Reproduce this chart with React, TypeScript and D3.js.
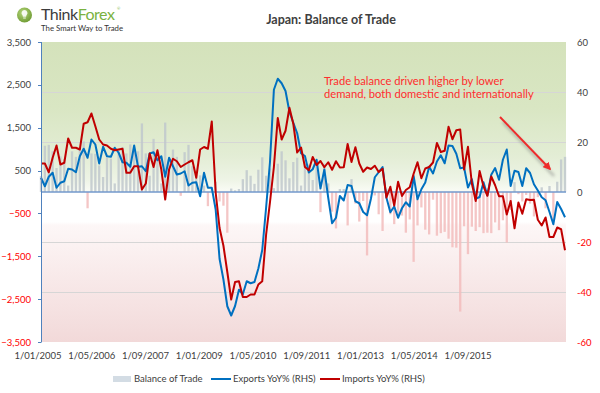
import React, { useEffect, useRef } from 'react'
import * as d3 from 'd3'

// Japan monthly trade balance (bn JPY), Jan 2005 -> Apr 2016
const balance = [
  370, 1080, 1100, 950, 560, 830, 770, 150, 950, 820, 1000, 1180,
  -380, 900, 890, 620, 350, 800, 780, 200, 990, 1050, 900, 1110,
  950, 950, 1600, 900, 380, 1240, 870, 200, 1620, 760, 990, 820,
  -90, 930, 1100, 600, 400, 390, 150, -330, 90, 240, -220, -320,
  -950, 80, 40, 70, 300, 510, 380, 190, 520, 810, 380, 550,
  90, 660, 950, 740, 320, 700, 800, 150, 670, 640, 280, 730,
  -470, 660, 200, -460, -850, 70, 70, -780, 300, -270, -690, -210,
  -1480, 30, -80, -520, -910, 60, -520, -750, -560, -550, -950, -640,
  -1630, -780, -360, -880, -990, -180, -1020, -960, -930, -1090, -1290, -1300,
  -2790, -800, -1450, -810, -910, -820, -960, -950, -960, -710, -890, -660,
  -1180, -420, 230, -50, -220, -70, -270, -570, -120, 110, -380, 140,
  -650, 240, 760, 820,
]

const exportsYoY = [
  5.7, 2.3, 6.1, 7.7, 1.7, 3.7, 4.3, 9.3, 9.0, 7.9, 14.3, 17.3,
  13.7, 21.0, 19.0, 11.4, 18.1, 14.3, 14.1, 17.7, 15.7, 11.9, 11.7, 10.1,
  18.6, 10.1, 10.3, 8.3, 15.4, 15.9, 12.7, 14.3, 6.1, 13.7, 10.3, 7.0,
  7.4, 8.3, 2.6, 3.7, 3.9, -1.7, 7.7, 1.7, 1.7, -7.0, -26.7, -35.0,
  -45.7, -49.4, -45.6, -39.1, -40.9, -35.7, -36.5, -36.0, -30.6, -23.2, -6.2, 12.1,
  40.9, 45.3, 43.5, 40.4, 32.1, 27.7, 23.5, 15.5, 14.4, 7.8, 9.1, 12.9,
  1.4, 9.0, -2.3, -12.5, -10.3, -1.6, -3.4, 2.8, 2.4, -3.7, -4.5, -8.0,
  -9.3, -2.7, 5.9, 7.9, 10.0, -2.3, -8.1, -5.8, -10.3, -6.5, -4.1, -5.8,
  6.4, -2.9, 1.1, 3.8, 10.1, 7.4, 12.2, 14.7, 11.5, 18.6, 18.4, 15.3,
  9.5, 9.8, 1.8, 5.1, -2.7, -2.0, 3.9, -1.3, 6.9, 9.6, 4.9, 12.9,
  17.0, 2.4, 8.5, 8.0, 2.4, 9.5, 7.6, 3.1, 0.6, -2.1, -3.3, -8.0,
  -12.9, -4.0, -6.8, -10.1,
]

const importsYoY = [
  11.4, 11.4, 7.9, 13.7, 18.6, 11.0, 11.7, 21.4, 17.7, 17.7, 17.0, 27.3,
  27.9, 31.4, 26.3, 21.0, 19.0, 18.6, 17.3, 16.7, 17.0, 17.3, 7.7, 7.7,
  10.3, 10.3, 1.0, 3.4, 15.4, 10.0, 16.7, 9.0, -3.0, 9.0, 13.3, 12.3,
  10.0, 11.0, 11.9, 12.7, 5.7, 17.0, 18.0, 17.3, 28.2, -0.2, -14.4, -21.5,
  -32.0, -43.0, -36.0, -35.7, -42.0, -42.0, -41.0, -41.0, -37.0, -35.7, -17.0, -4.0,
  10.0, 29.6, 21.0, 24.5, 33.7, 27.3, 15.8, 17.8, 10.0, 8.7, 14.0, 10.8,
  12.4, 9.9, 11.9, 8.9, 12.3, 9.8, 9.9, 19.2, 12.0, 17.9, 11.4, 8.1,
  9.8, 9.2, 10.5, 8.0, 9.3, -2.2, 2.1, -5.4, 4.1, -1.6, 0.8, 1.9,
  7.3, 11.9, 5.5, 9.4, 10.0, 11.8, 19.6, 16.0, 16.5, 26.1, 21.1, 24.7,
  25.0, 9.0, 18.1, 3.4, -3.6, 8.4, 2.3, -1.5, 6.2, 2.7, -1.7, -1.7,
  -9.0, -3.6, -14.5, -4.2, -8.7, -2.9, -3.2, -3.1, -11.1, -13.4, -10.2, -18.0,
  -18.0, -14.2, -14.9, -23.3,
]

const xLabels = [
  '1/01/2005', '1/05/2006', '1/09/2007', '1/01/2009', '1/05/2010',
  '1/09/2011', '1/01/2013', '1/05/2014', '1/09/2015',
]
const leftTicks = [3500, 2500, 1500, 500, -500, -1500, -2500, -3500]
const rightTicks = [60, 40, 20, 0, -20, -40, -60]
const gridTicks = [40, 20, -20, -40]
const noteLines = [
  'Trade balance driven higher by lower',
  'demand, both domestic and internationally',
]
const legendItems = ['Balance of Trade', 'Exports YoY% (RHS)', 'Imports YoY% (RHS)']

const FONT = 'Lato, "Open Sans", sans-serif'
const TEXT = '#404040'
const NEG = '#ff0000'
const BLUE = '#0070c0'
const RED = '#c00000'

const App: React.FC = () => {
  const svgRef = useRef<SVGSVGElement>(null)

  useEffect(() => {
    const svg = d3.select(svgRef.current)
    svg.selectAll('*').remove()

    const plot = { left: 41, right: 566, top: 42, bottom: 342 }

    const x = d3.scaleLinear().domain([0, balance.length - 1]).range([plot.left, plot.right - 1])
    const yL = d3.scaleLinear().domain([-3500, 3500]).range([plot.bottom, plot.top])
    const yR = d3.scaleLinear().domain([-60, 60]).range([plot.bottom, plot.top])
    const xl = d3.scalePoint<string>().domain(xLabels).range([38, 468])

    const defs = svg.append('defs')
    const bg = defs.append('linearGradient')
      .attr('id', 'bg').attr('x1', 0).attr('y1', 0).attr('x2', 0).attr('y2', 1)
    const stops: [number, string][] = [
      [0, '#d4e2bb'], [0.22, '#d9e6c3'], [0.38, '#e3edd5'], [0.46, '#eef4e6'],
      [0.5, '#fafcf6'], [0.505, '#ffffff'], [0.6, '#ffffff'], [0.61, '#fdf7f7'],
      [0.75, '#f9ecec'], [0.9, '#f5e1e1'], [1, '#f2d9d9'],
    ]
    stops.forEach(([o, c]) => bg.append('stop').attr('offset', o).attr('stop-color', c))

    const logoGrad = defs.append('radialGradient').attr('id', 'logo').attr('cx', 0.4).attr('cy', 0.35).attr('r', 0.7)
    logoGrad.append('stop').attr('offset', 0).attr('stop-color', '#b5d67a')
    logoGrad.append('stop').attr('offset', 1).attr('stop-color', '#6d9a32')

    const shadow = defs.append('filter').attr('id', 'blur').attr('x', -0.5).attr('y', -0.5).attr('width', 2).attr('height', 2)
    shadow.append('feGaussianBlur').attr('stdDeviation', 1.6)

    defs.append('marker')
      .attr('id', 'head').attr('viewBox', '0 0 10 10').attr('refX', 8).attr('refY', 5)
      .attr('markerWidth', 4).attr('markerHeight', 4).attr('orient', 'auto')
      .append('path').attr('d', 'M0,0 L10,5 L0,10 Z').attr('fill', '#ee2b2b')

    // 背景
    svg.append('rect')
      .attr('x', plot.left).attr('y', plot.top)
      .attr('width', plot.right - plot.left).attr('height', plot.bottom - plot.top)
      .attr('fill', 'url(#bg)')

    // grid lines at the RHS ticks
    svg.append('g').selectAll('line').data(gridTicks).enter().append('line')
      .attr('x1', plot.left).attr('x2', plot.right)
      .attr('y1', d => Math.round(yR(d)) + 0.5).attr('y2', d => Math.round(yR(d)) + 0.5)
      .attr('stroke', '#d6d6d6').attr('stroke-width', 1)

    // bars
    const bw = 2.3
    svg.append('g').selectAll('rect').data(balance).enter().append('rect')
      .attr('x', (_, i) => x(i) - bw / 2)
      .attr('y', d => (d >= 0 ? yL(d) : yL(0)))
      .attr('width', bw)
      .attr('height', d => Math.abs(yL(d) - yL(0)))
      .attr('fill', d => (d >= 0 ? '#bfc8cc' : '#f2bcbc'))
      .attr('fill-opacity', 0.85)

    // zero line
    svg.append('line')
      .attr('x1', plot.left).attr('x2', plot.right)
      .attr('y1', yL(0)).attr('y2', yL(0))
      .attr('stroke', '#7398cd').attr('stroke-width', 1.5)

    const line = d3.line<number>()
      .x((_, i) => x(i))
      .y(d => yR(d))

    svg.append('path').datum(exportsYoY)
      .attr('d', line).attr('fill', 'none')
      .attr('stroke', BLUE).attr('stroke-width', 2).attr('stroke-linejoin', 'round')

    svg.append('path').datum(importsYoY)
      .attr('d', line).attr('fill', 'none')
      .attr('stroke', RED).attr('stroke-width', 2).attr('stroke-linejoin', 'round')

    // left axis
    const axisL = svg.append('g')
    axisL.append('line')
      .attr('x1', plot.left + 0.5).attr('x2', plot.left + 0.5)
      .attr('y1', plot.top).attr('y2', plot.bottom)
      .attr('stroke', '#4f81bd').attr('stroke-width', 1)
    axisL.selectAll('.tick').data(leftTicks).enter().append('line')
      .attr('x1', plot.left - 3).attr('x2', plot.left + 0.5)
      .attr('y1', d => Math.round(yL(d)) + 0.5).attr('y2', d => Math.round(yL(d)) + 0.5)
      .attr('stroke', '#4f81bd')
    axisL.selectAll('text').data(leftTicks).enter().append('text')
      .attr('x', 31).attr('y', d => yL(d) + 3.5)
      .attr('text-anchor', 'end')
      .attr('font-size', 9.5)
      .attr('fill', d => (d < 0 ? NEG : TEXT))
      .text(d => d3.format(',')(d))

    // right axis labels
    svg.append('g').selectAll('text').data(rightTicks).enter().append('text')
      .attr('x', 577).attr('y', d => yR(d) + 3.5)
      .attr('font-size', 9.5)
      .attr('fill', d => (d < 0 ? NEG : TEXT))
      .text(d => `${d}`)

    // x labels
    svg.append('g').selectAll('text').data(xLabels).enter().append('text')
      .attr('x', d => xl(d) ?? 0).attr('y', 359)
      .attr('text-anchor', 'middle')
      .attr('font-size', 9.5)
      .attr('fill', TEXT)
      .text(d => d)

    // legend
    const lg = svg.append('g').attr('font-size', 9.5).attr('fill', TEXT)
    lg.append('rect').attr('x', 113).attr('y', 376).attr('width', 18).attr('height', 6).attr('fill', '#d3dce4')
    lg.append('text').attr('x', 134).attr('y', 382).text(legendItems[0])
    lg.append('line').attr('x1', 211).attr('x2', 231).attr('y1', 379).attr('y2', 379).attr('stroke', BLUE).attr('stroke-width', 2)
    lg.append('text').attr('x', 233).attr('y', 382).text(legendItems[1])
    lg.append('line').attr('x1', 320).attr('x2', 340).attr('y1', 379).attr('y2', 379).attr('stroke', RED).attr('stroke-width', 2)
    lg.append('text').attr('x', 342).attr('y', 382).text(legendItems[2])

    // annotation
    svg.append('g').selectAll('text').data(noteLines).enter().append('text')
      .attr('x', 324).attr('y', (_, i) => 84.5 + i * 13.5)
      .attr('font-size', 11.2).attr('fill', '#ff2d2d')
      .text(d => d)

    svg.append('line')
      .attr('x1', 503).attr('y1', 122).attr('x2', 554).attr('y2', 176)
      .attr('stroke', '#777').attr('stroke-width', 2.5).attr('opacity', 0.5)
      .attr('filter', 'url(#blur)')
    svg.append('line')
      .attr('x1', 500).attr('y1', 117).attr('x2', 550).attr('y2', 169)
      .attr('stroke', '#ee2b2b').attr('stroke-width', 2)
      .attr('marker-end', 'url(#head)')

    // title
    svg.append('text')
      .attr('x', 331).attr('y', 24)
      .attr('text-anchor', 'middle')
      .attr('font-size', 12.5).attr('font-weight', 'bold').attr('fill', TEXT)
      .text('Japan: Balance of Trade')

    // logo
    const logo = svg.append('g')
    logo.append('circle').attr('cx', 24.5).attr('cy', 15).attr('r', 7.5).attr('fill', 'url(#logo)')
    logo.append('path')
      .attr('d', 'M24.5,10 a3,3 0 0 1 2,5.2 l-0.4,1.6 h-3.2 l-0.4,-1.6 a3,3 0 0 1 2,-5.2 Z M23.2,17.6 h2.6 v1 h-2.6 Z')
      .attr('fill', '#fff').attr('opacity', 0.9)
    const brand = logo.append('text').attr('x', 41).attr('y', 20).attr('font-size', 16).attr('letter-spacing', -0.5)
    brand.append('tspan').attr('fill', '#3c3c3c').text('Think')
    brand.append('tspan').attr('fill', '#7ab241').text('Forex')
    logo.append('text').attr('x', 117).attr('y', 10).attr('font-size', 4).attr('fill', '#7ab241').text('®')
    logo.append('text').attr('x', 41).attr('y', 30.5).attr('font-size', 7.8).attr('fill', '#333').text('The Smart Way to Trade')
  }, [])

  return (
    <svg
      ref={svgRef}
      width={600}
      height={393}
      style={{ position: 'absolute', left: 0, top: 0, fontFamily: FONT, background: '#fff' }}
    />
  )
}

export default App
